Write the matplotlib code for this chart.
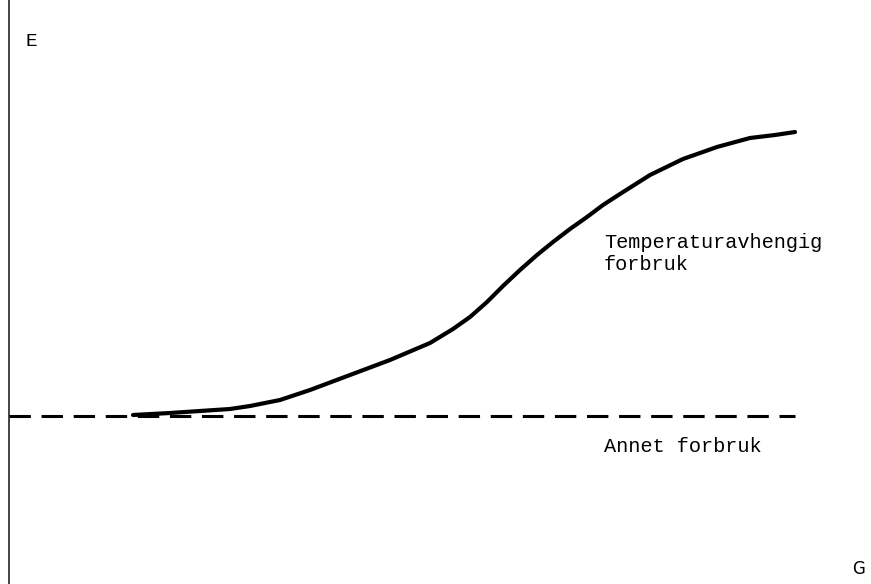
import matplotlib
matplotlib.use("Agg")
import matplotlib.pyplot as plt

W, H = 871, 584

# curve (pixel columns, pixel rows from the top)
curve_x = [133, 170, 200, 230, 250, 280, 310, 350, 390, 430, 453, 470, 487, 503,
           520, 537, 553, 570, 587, 603, 620, 650, 683, 717, 750, 775, 795]
curve_row = [415, 413, 411, 409, 406, 400, 390, 375, 360, 343, 329, 317, 302, 286,
             270, 255, 242, 229, 217, 205, 194, 175, 159, 147, 138, 135, 132]
curve_y = [H - r for r in curve_row]

base_x = [9, 795]
base_y = [H - 416, H - 416]

fig = plt.figure(figsize=(W / 100, H / 100), dpi=100)
ax = fig.add_axes([0, 0, 1, 1])
ax.set_xlim(0, W)
ax.set_ylim(0, H)
ax.axis("off")

# vertical axis
ax.axvline(9, color="#444444", lw=1.4)

# other consumption (dashed)
ax.plot(base_x, base_y, color="black", lw=2.2, dashes=(7, 3.5))

# temperature dependent consumption
ax.plot(curve_x, curve_y, color="black", lw=3.0, solid_capstyle="round",
        solid_joinstyle="round")

mono = "Liberation Mono"
ax.text(25, H - 42, "E", family=mono, fontsize=14, va="center", ha="left")
ax.text(604, H - 254, "Temperaturavhengig\nforbruk", family=mono, fontsize=14.6,
        va="center", ha="left", linespacing=1.2)
ax.text(604, H - 446, "Annet forbruk", family=mono, fontsize=14.6, va="center", ha="left")
ax.text(852, H - 569, "G", family="DejaVu Sans", fontsize=12, va="center", ha="left")

fig.savefig("out.png", dpi=100)
